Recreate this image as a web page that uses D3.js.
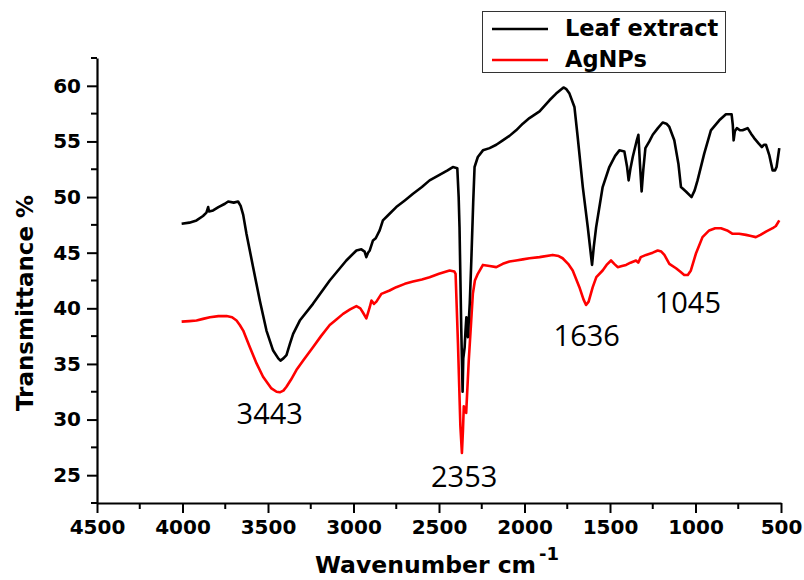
<!DOCTYPE html>
<html>
<head>
<meta charset="utf-8">
<script src="https://cdn.jsdelivr.net/npm/d3@7"></script>
<style>
  body { margin: 0; background: #fff; }
  svg { display: block; }
</style>
</head>
<body>
<div id="chart"></div>
<script>
// FTIR spectra (wavenumber cm-1, transmittance %)
let leafWave = [4005, 3960, 3918, 3880, 3860, 3850, 3845, 3821, 3790, 3752, 3733, 3700, 3675, 3660, 3645, 3626,
  3587, 3548, 3509, 3470, 3440, 3427, 3410, 3392, 3372, 3353, 3314, 3237, 3139, 3042, 2983, 2954, 2935, 2925,
  2915, 2905, 2886, 2870, 2847, 2828, 2789, 2750, 2700, 2652, 2600, 2555, 2497, 2450, 2419, 2393, 2385, 2380,
  2370, 2362, 2358, 2350, 2345, 2340, 2331, 2320, 2311, 2300, 2292, 2273, 2243, 2204, 2165, 2127, 2088, 2049,
  2010, 1971, 1912, 1854, 1815, 1772, 1755, 1737, 1708, 1689, 1659, 1630, 1605, 1595, 1581, 1543, 1504, 1470,
  1445, 1416, 1400, 1391, 1380, 1367, 1345, 1334, 1325, 1315, 1305, 1293, 1270, 1250, 1220, 1192, 1170, 1153,
  1124, 1100, 1085, 1056, 1023, 1005, 988, 949, 910, 861, 822, 789, 782, 777, 770, 758, 740, 725, 710, 695,
  675, 657, 630, 612, 600, 588, 569, 549, 535, 526, 510];
let leafTrans = [47.6, 47.7, 47.9, 48.3, 48.6, 49.1, 48.7, 48.8, 49.1, 49.4, 49.6, 49.5, 49.6, 49.2, 48.4, 46.7,
  43.7, 40.7, 38.0, 36.2, 35.5, 35.3, 35.5, 35.8, 36.8, 37.7, 38.9, 40.4, 42.5, 44.3, 45.2, 45.3, 45.1, 44.6,
  45.0, 45.2, 46.1, 46.3, 47.0, 47.9, 48.5, 49.1, 49.7, 50.3, 50.9, 51.5, 52.0, 52.4, 52.7, 52.6, 50.0, 47.3,
  38.3, 32.5, 35.5, 36.5, 38.0, 39.2, 37.4, 40.5, 44.3, 49.5, 52.7, 53.6, 54.2, 54.4, 54.7, 55.1, 55.5, 56.0,
  56.6, 57.1, 57.7, 58.7, 59.3, 59.85, 59.7, 59.3, 58.1, 55.4, 50.9, 47.3, 43.9, 45.5, 47.3, 50.9, 52.7, 53.7,
  54.2, 54.1, 52.7, 51.5, 52.6, 53.6, 55.0, 55.6, 53.0, 50.5, 52.5, 54.4, 55.0, 55.6, 56.2, 56.7, 56.6, 56.3,
  55.1, 53.0, 50.9, 50.5, 50.0, 50.6, 51.5, 53.9, 56.0, 56.9, 57.45, 57.45, 56.5, 55.1, 55.9, 56.2, 56.0, 56.0, 56.1, 56.2,
  55.7, 55.3, 54.8, 54.5, 54.7, 54.7, 53.8, 52.4, 52.4, 52.7, 54.4];

let agWave = [4005, 3960, 3918, 3880, 3840, 3790, 3742, 3710, 3684, 3665, 3645, 3606, 3567, 3529, 3480, 3450,
  3431, 3410, 3392, 3365, 3334, 3290, 3237, 3190, 3139, 3100, 3061, 3020, 2983, 2960, 2944, 2925, 2915, 2905,
  2895, 2880, 2866, 2837, 2789, 2750, 2700, 2652, 2600, 2555, 2500, 2438, 2410, 2403, 2389, 2375, 2366, 2360,
  2355, 2348, 2341, 2326, 2302, 2290, 2273, 2243, 2204, 2165, 2127, 2088, 2049, 2010, 1971, 1912, 1835, 1800,
  1777, 1745, 1718, 1679, 1655, 1640, 1625, 1601, 1580, 1543, 1520, 1494, 1475, 1455, 1430, 1406, 1380, 1348,
  1335, 1320, 1289, 1250, 1221, 1200, 1182, 1153, 1114, 1090, 1066, 1045, 1027, 998, 959, 920, 885, 851, 815,
  783, 745, 705, 675, 647, 620, 588, 549, 530, 510];
let agTrans = [38.8, 38.85, 38.9, 39.05, 39.2, 39.3, 39.3, 39.2, 38.9, 38.5, 38.0, 36.5, 35.05, 33.85, 32.8, 32.5,
  32.45, 32.6, 32.95, 33.6, 34.45, 35.4, 36.5, 37.5, 38.5, 39.0, 39.5, 39.9, 40.2, 40.0, 39.6, 39.1, 39.6, 40.1,
  40.7, 40.4, 40.6, 41.3, 41.6, 41.9, 42.2, 42.4, 42.6, 42.8, 43.1, 43.4, 43.3, 43.1, 36.8, 29.4, 27.0, 29.0,
  31.2, 30.8, 30.6, 35.3, 41.3, 42.5, 43.1, 43.9, 43.8, 43.7, 44.0, 44.2, 44.3, 44.4, 44.5, 44.6, 44.8, 44.7,
  44.5, 44.0, 43.4, 41.9, 40.8, 40.3, 40.6, 41.9, 42.8, 43.4, 43.9, 44.3, 44.0, 43.7, 43.8, 43.9, 44.1, 44.3,
  44.1, 44.6, 44.8, 45.0, 45.2, 45.1, 44.8, 44.0, 43.6, 43.3, 43.0, 43.0, 43.4, 44.9, 46.4, 47.0, 47.2, 47.2, 47.0,
  46.7, 46.7, 46.6, 46.5, 46.4, 46.6, 46.9, 47.2, 47.4, 47.9];

let seriesNames = ["Leaf extract", "AgNPs"];
let seriesColors = ["#000000", "#ff0000"];

let xTicks = [4500, 4000, 3500, 3000, 2500, 2000, 1500, 1000, 500];
let yTicks = [25, 30, 35, 40, 45, 50, 55, 60];

let peakLabels = ["3443", "2353", "1636", "1045"];
let peakWave = [3443, 2353, 1636, 1045];
let peakLevel = [29.6, 23.95, 36.6, 39.6];

let width = 804;
let height = 580;
let margin = { top: 58, right: 23, bottom: 77, left: 97 };

let svg = d3.select("#chart").append("svg")
  .attr("width", width)
  .attr("height", height);

let x = d3.scaleLinear()
  .domain([4500, 500])
  .range([margin.left, width - margin.right]);

let y = d3.scaleLinear()
  .domain([22.5, 62.5])
  .range([height - margin.bottom, margin.top]);

let tickFont = "'DejaVu Sans', sans-serif";

// x axis
let xAxis = svg.append("g")
  .attr("transform", `translate(0, ${height - margin.bottom})`)
  .call(d3.axisBottom(x).tickValues(xTicks).tickSize(10).tickSizeOuter(0).tickPadding(7).tickFormat(d3.format("d")));

// minor x ticks
svg.append("g")
  .selectAll("line")
  .data(d3.range(4250, 500, -500))
  .enter()
  .append("line")
  .attr("x1", d => x(d))
  .attr("x2", d => x(d))
  .attr("y1", height - margin.bottom)
  .attr("y2", height - margin.bottom + 6)
  .attr("stroke", "#000")
  .attr("stroke-width", 2);

// y axis
let yAxis = svg.append("g")
  .attr("transform", `translate(${margin.left}, 0)`)
  .call(d3.axisLeft(y).tickValues(yTicks).tickSize(10).tickSizeOuter(0).tickPadding(6).tickFormat(d3.format("d")));

// minor y ticks
svg.append("g")
  .selectAll("line")
  .data(d3.range(22.5, 63, 5))
  .enter()
  .append("line")
  .attr("x1", margin.left - 6)
  .attr("x2", margin.left)
  .attr("y1", d => y(d))
  .attr("y2", d => y(d))
  .attr("stroke", "#000")
  .attr("stroke-width", 2);

[xAxis, yAxis].forEach(function (g) {
  g.select(".domain").attr("stroke", "#000").attr("stroke-width", 2.2);
  g.selectAll(".tick line").attr("stroke", "#000").attr("stroke-width", 2);
  g.selectAll(".tick text")
    .attr("fill", "#000")
    .style("font-family", tickFont)
    .style("font-weight", "bold")
    .style("font-size", "20px");
});

// spectra
let line = d3.line()
  .x(d => x(d[0]))
  .y(d => y(d[1]));

let series = [
  d3.zip(leafWave, leafTrans),
  d3.zip(agWave, agTrans)
];

// red drawn first so the black dip sits on top around 2350
svg.append("path")
  .datum(series[1])
  .attr("fill", "none")
  .attr("stroke", seriesColors[1])
  .attr("stroke-width", 2.6)
  .attr("stroke-linejoin", "round")
  .attr("d", line);

svg.append("path")
  .datum(series[0])
  .attr("fill", "none")
  .attr("stroke", seriesColors[0])
  .attr("stroke-width", 2.6)
  .attr("stroke-linejoin", "round")
  .attr("d", line);

// peak labels
svg.selectAll(".peak")
  .data(peakLabels)
  .enter()
  .append("text")
  .attr("class", "peak")
  .attr("x", (d, i) => x(peakWave[i]) + (i === 0 ? -8 : 0))
  .attr("y", (d, i) => y(peakLevel[i]))
  .attr("text-anchor", "middle")
  .style("font-family", "'Open Sans', sans-serif")
  .style("font-size", "29px")
  .attr("fill", "#000")
  .text(d => d);

// axis titles
svg.append("text")
  .attr("x", 315)
  .attr("y", 573)
  .style("font-family", tickFont)
  .style("font-weight", "bold")
  .style("font-size", "23.5px")
  .attr("fill", "#000")
  .text("Wavenumber cm")
  .append("tspan")
  .attr("dy", -13)
  .attr("dx", 3)
  .style("font-size", "18px")
  .text("-1");

svg.append("text")
  .attr("transform", "translate(33, 303) rotate(-90)")
  .attr("text-anchor", "middle")
  .style("font-family", tickFont)
  .style("font-weight", "bold")
  .style("font-size", "23px")
  .attr("fill", "#000")
  .text("Transmittance %");

// legend
let legend = svg.append("g");

legend.append("rect")
  .attr("x", 482.5)
  .attr("y", 11.5)
  .attr("width", 243)
  .attr("height", 61)
  .attr("fill", "#fff")
  .attr("stroke", "#333")
  .attr("stroke-width", 1);

legend.selectAll(".legend_line")
  .data(seriesNames)
  .enter()
  .append("line")
  .attr("x1", 492)
  .attr("x2", 548)
  .attr("y1", (d, i) => 29 + i * 31)
  .attr("y2", (d, i) => 29 + i * 31)
  .attr("stroke", (d, i) => seriesColors[i])
  .attr("stroke-width", 2.6);

legend.selectAll(".legend_label")
  .data(seriesNames)
  .enter()
  .append("text")
  .attr("x", 565)
  .attr("y", (d, i) => 36 + i * 31)
  .style("font-family", tickFont)
  .style("font-weight", "bold")
  .style("font-size", "22.5px")
  .attr("fill", "#000")
  .text(d => d);
</script>
</body>
</html>
